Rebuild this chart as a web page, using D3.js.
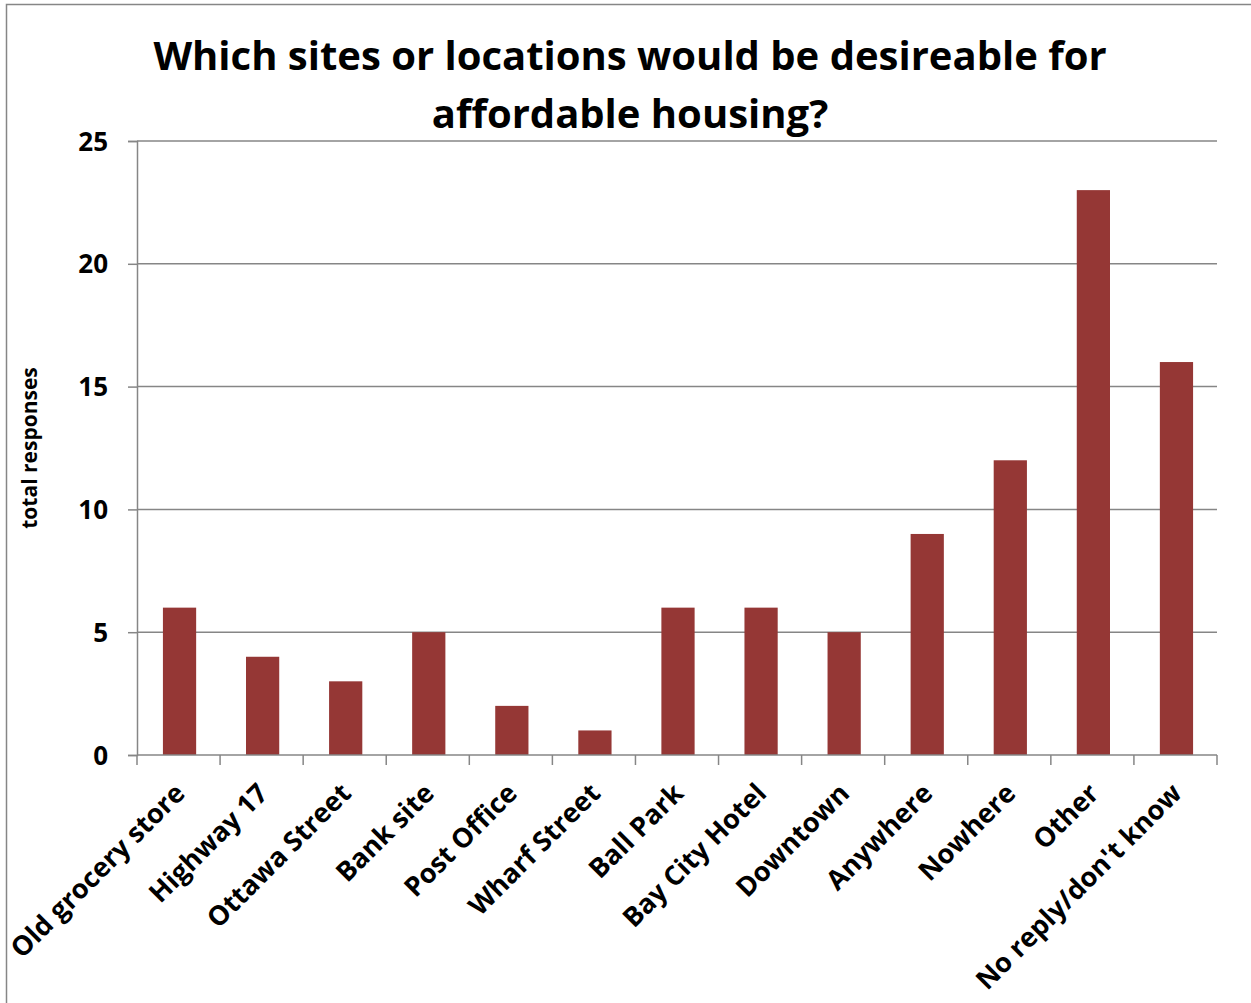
<!DOCTYPE html>
<html><head><meta charset="utf-8">
<script src="https://cdn.jsdelivr.net/npm/d3@7"></script>
<style>
body{margin:0;background:#fff;}
text{font-family:"Open Sans",Lato,sans-serif;font-weight:bold;fill:#000;}
</style></head>
<body>
<svg id="chart" width="1251" height="1003"></svg>
<script>
const categories = ["Old grocery store","Highway 17","Ottawa Street","Bank site","Post Office","Wharf Street","Ball Park","Bay City Hotel","Downtown","Anywhere","Nowhere","Other","No reply/don't know"];
const values = [6,4,3,5,2,1,6,6,5,9,12,23,16];
const yTicks = [0,5,10,15,20,25];
const titleLines = ["Which sites or locations would be desireable for","affordable housing?"];
const yTitle = "total responses";

const svg = d3.select("#chart");
const m = {left:137, right:1217, top:141, bottom:755};

svg.append("rect").attr("x",6.5).attr("y",4.5).attr("width",1260).attr("height",1010)
  .attr("fill","#fff").attr("stroke","#868686").attr("stroke-width",1.5);

const x = d3.scaleBand().domain(categories).range([m.left,m.right]).paddingInner(0).paddingOuter(0);
const y = d3.scaleLinear().domain([0,25]).range([m.bottom,m.top]);

// gridlines
svg.append("g").selectAll("line").data(yTicks.filter(d=>d>0)).join("line")
  .attr("x1",m.left).attr("x2",m.right).attr("y1",d=>y(d)).attr("y2",d=>y(d))
  .attr("stroke","#868686").attr("stroke-width",1.5);

// bars
const bw = x.bandwidth()*0.4;
svg.append("g").selectAll("rect").data(values).join("rect")
  .attr("x",(d,i)=>x(categories[i])+x.bandwidth()/2-bw/2+1)
  .attr("width",bw)
  .attr("y",d=>y(d)).attr("height",d=>y(0)-y(d))
  .attr("fill","#953735");

// y axis
const ya = svg.append("g").attr("transform",`translate(${m.left},0)`)
  .call(d3.axisLeft(y).tickValues(yTicks).tickSize(9).tickPadding(20));
ya.select(".domain").attr("stroke","#868686").attr("stroke-width",1.5);
ya.selectAll(".tick line").attr("stroke","#868686").attr("stroke-width",1.5);
ya.selectAll(".tick text").attr("font-size",26).attr("font-family","Open Sans").attr("font-weight","bold").attr("fill","#000").attr("dy","0.35em");

// x axis baseline and ticks between categories
const xa = svg.append("g");
xa.append("line").attr("x1",m.left).attr("x2",m.right).attr("y1",m.bottom).attr("y2",m.bottom)
  .attr("stroke","#868686").attr("stroke-width",1.5);
const bounds = categories.map(c=>x(c)).concat([m.right]);
xa.selectAll("line.t").data(bounds).join("line").attr("class","t")
  .attr("x1",d=>d).attr("x2",d=>d).attr("y1",m.bottom).attr("y2",m.bottom+10)
  .attr("stroke","#868686").attr("stroke-width",1.5);

xa.selectAll("text").data(categories).join("text")
  .attr("transform",d=>`translate(${x(d)+x.bandwidth()/2+8},${m.bottom+40}) rotate(-45)`)
  .attr("text-anchor","end").attr("font-size",27).text(d=>d);

// title
svg.append("g").selectAll("text").data(titleLines).join("text")
  .attr("x",630).attr("y",(d,i)=>70+i*58).attr("text-anchor","middle")
  .attr("font-size",40).text(d=>d);

// y title
svg.append("text").attr("transform","translate(37,448) rotate(-90)")
  .attr("text-anchor","middle").attr("font-size",21).text(yTitle);
</script>
</body></html>
